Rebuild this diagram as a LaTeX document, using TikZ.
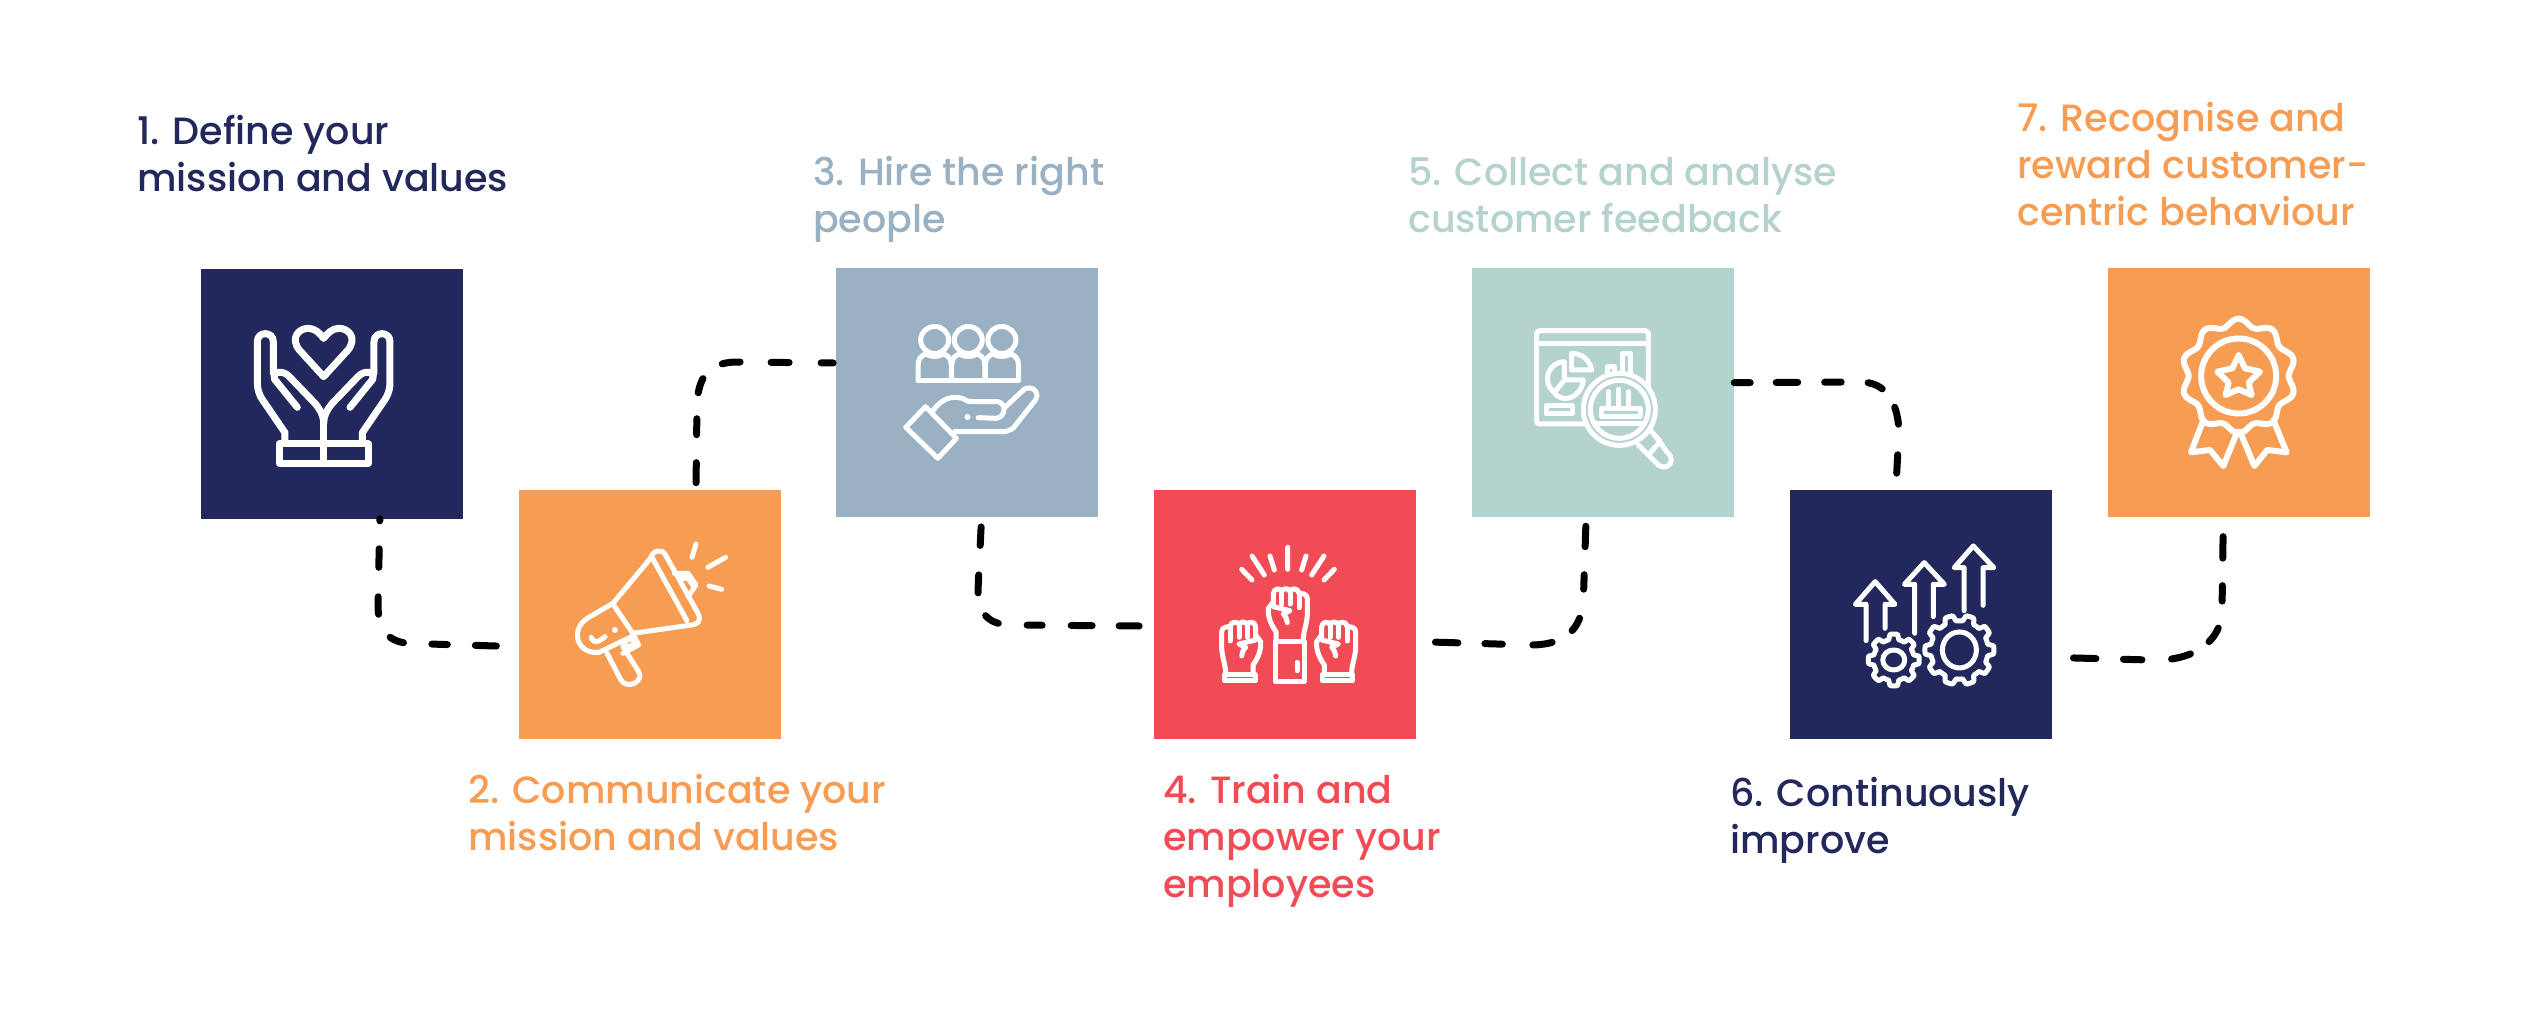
\documentclass[tikz,border=0pt]{standalone}
\usepackage{fontspec}
\setmainfont{Poppins}[UprightFont=* Medium]
\definecolor{navy}{HTML}{22285C}
\definecolor{orng}{HTML}{F79C53}
\definecolor{slate}{HTML}{9AB1C3}
\definecolor{redd}{HTML}{F14C55}
\definecolor{teal2}{HTML}{B4D2CE}
\tikzset{
  tile/.style={rectangle,inner sep=0pt,minimum width=262pt,minimum height=249.5pt,fill=#1},
  conn/.style={draw=black,line width=7pt,line cap=round,line join=round},
  bold icon/.style={draw=white,line width=7pt,line cap=round,line join=round},
  icon/.style={draw=white,line width=6pt,line cap=round,line join=round},
  thin icon/.style={draw=white,line width=5pt,line cap=round,line join=round},
  zoomw/.style={shift={(#1)},x=0.3954pt,y=-0.3333pt},
  zoomu/.style={shift={(#1)},x=0.3333pt,y=-0.3333pt},
  lbl/.style={anchor=north west,inner sep=0pt,align=left,text=#1,font=\fontsize{38}{47}\selectfont}
}
\newcommand{\firstline}{\rule{0pt}{30pt}}
\newcommand{\gearpath}[6]{%
  plot[domain=0:360,samples=241,variable=\t]
  ({#1+#3*(1+#5*max(-1,min(1,2.5*cos(#6*\t))))*cos(\t)},{#2+#4*(1+#5*max(-1,min(1,2.5*cos(#6*\t))))*sin(\t)}) -- cycle}
\newcommand{\fistpath}{%
  \draw[thin icon] (318,300) -- (318,275) .. controls (300,250) and (293,225) .. (295,205) -- (310,185) -- (310,160)
    .. controls (312,143) and (333,143) .. (335,155) .. controls (337,143) and (358,143) .. (360,155)
    .. controls (362,143) and (385,143) .. (387,160) .. controls (392,160) and (412,160) .. (412,175)
    -- (412,225) .. controls (410,255) and (400,275) .. (400,300);
  \draw[thin icon] (335,155) -- (335,192) (360,155) -- (360,192) (387,160) -- (387,203);
  \draw[thin icon] (310,185) -- (310,200) -- (360,212) -- (340,222) .. controls (348,230) and (351,238) .. (352,248);
}
\newcommand{\sidefist}{%
  \fistpath
  \draw[thin icon] (312,303) rectangle (403,323);
}
\begin{document}
\begin{tikzpicture}[x=1pt,y=-1pt]
\useasboundingbox (0,0) rectangle (2540,1035);
\fill[white] (0,0) rectangle (2540,1035);

% tiles
\node[tile=navy]  (s1) at (331.85,393.85) {};
\node[tile=orng]  (s2) at (649.55,614.65) {};
\node[tile=slate] (s3) at (967.1,392.5) {};
\node[tile=redd]  (s4) at (1285.2,614.65) {};
\node[tile=teal2] (s5) at (1603,392.5) {};
\node[tile=navy]  (s6) at (1921.25,614.65) {};
\node[tile=orng]  (s7) at (2238.85,392.5) {};

% connectors
\draw[conn,dash pattern=on 2pt off 28pt on 18.5pt off 29.5pt on 17.5pt off 26.5pt on 14.5pt off 28.5pt on 15.5pt off 28pt on 21pt off 60pt]
  ([xshift=48pt]s1.south) -- (378,605) .. controls (378,630) and (388,643) .. (412,643.5) -- ([xshift=-17.5pt,yshift=-31.5pt]s2.west);
\draw[conn,dash pattern=on 20pt off 28pt on 16pt off 26pt on 15pt off 25pt on 18pt off 31pt on 18pt off 32pt on 12pt off 60pt]
  ([xshift=46.5pt,yshift=7pt]s2.north) -- (697,405) .. controls (698,378) and (708,363) .. (735,362) -- (s3.west |- 0,363);
\draw[conn,dash pattern=on 18.5pt off 29.5pt on 18pt off 24.5pt on 15pt off 29pt on 15pt off 29pt on 21pt off 27pt on 20pt off 60pt]
  ([xshift=14pt,yshift=-9.5pt]s3.south) -- (978,590) .. controls (978,615) and (990,625) .. (1012,625) -- ([xshift=-8pt,yshift=-11.4pt]s4.west);
\draw[conn,dash pattern=on 22.5pt off 27pt on 17.5pt off 30.5pt on 19.5pt off 23.5pt on 14.5pt off 29.5pt on 14.5pt off 28pt on 20.5pt off 60pt]
  ([xshift=19pt,yshift=-27.5pt]s4.east) -- (1530,645) .. controls (1570,645) and (1583,625) .. (1583.5,595) -- ([xshift=-17pt,yshift=-3.5pt]s5.south);
\draw[conn,dash pattern=on 16pt off 26pt on 21.5pt off 27pt on 16.5pt off 27pt on 15.5pt off 22.5pt on 17.5pt off 30.5pt on 18.5pt off 60pt]
  ([yshift=9.8pt]s5.east) -- (1860,382) .. controls (1885,382) and (1897,400) .. (1899,430) -- ([xshift=-25pt,yshift=8.3pt]s6.north);
\draw[conn,dash pattern=on 22.5pt off 27.5pt on 18.5pt off 29.7pt on 19.5pt off 22.5pt on 16.5pt off 27.5pt on 15.5pt off 27.5pt on 21.5pt off 60pt]
  ([xshift=21pt,yshift=-43.3pt]s6.east) -- (2150,660) .. controls (2195,662) and (2222,640) .. (2222,610) -- ([xshift=-15.5pt]s7.south);

% icon 1: hands and heart
\begin{scope}[zoomu={240,320}]
  \draw[bold icon] (251,170) -- (178,90) .. controls (150,55) and (175,25) .. (205,25) .. controls (225,25) and (240,40) .. (251,55)
    .. controls (262,40) and (277,25) .. (297,25) .. controls (327,25) and (352,55) .. (324,90) -- cycle;
  \draw[bold icon] (118,372) rectangle (385,430);
  \draw[bold icon] (251,285) -- (251,430);
  \foreach \mir in {1,-1}{
    \begin{scope}[shift={(251,0)},xscale=\mir,shift={(-251,0)}]
      \draw[bold icon] (135,370) -- (135,338) -- (68,240) .. controls (55,220) and (52,205) .. (52,185) -- (52,65)
        .. controls (52,33) and (100,33) .. (100,65) -- (100,160);
      \draw[bold icon] (104,178) -- (172,262);
      \draw[bold icon] (104,178) .. controls (95,152) and (130,150) .. (148,170) -- (225,250) .. controls (240,268) and (251,285) .. (251,310);
    \end{scope}
  }
\end{scope}

% icon 2: megaphone
\begin{scope}[zoomw={180,250}]
  \draw[thin icon] (1190,925) .. controls (1195,900) and (1220,895) .. (1228,915) -- (1310,1090) .. controls (1320,1115) and (1308,1122) .. (1295,1125) -- (1145,1150);
  \draw[thin icon] (1195,925) -- (1282,1112);
  \draw[thin icon] (1190,925) -- (1095,1060) -- (1030,1105) .. controls (985,1140) and (1005,1215) .. (1060,1207) -- (1142,1160);
  \draw[thin icon] (1095,1062) -- (1145,1150) -- (1160,1185) -- (1120,1210);
  \draw[thin icon] (1250,970) -- (1285,970) -- (1305,1005) -- (1285,1040);
  \draw[thin icon] (1265,985) -- (1285,985) -- (1298,1008);
  \draw[thin icon] (1122,1175) -- (1145,1165) -- (1150,1182) -- (1130,1192) -- cycle;
  \draw[thin icon] (1080,1210) -- (1115,1290) .. controls (1130,1320) and (1175,1295) .. (1160,1265) -- (1120,1190);
  \fill[white] (1100,1140) circle[x radius=3pt,y radius=3pt];
  \draw[thin icon] (1040,1162) .. controls (1045,1180) and (1055,1180) .. (1075,1160);
  \draw[thin icon] (1295,922) -- (1305,882) (1335,952) -- (1380,922) (1338,1008) -- (1370,1018);
\end{scope}

% icon 3: people over a hand
\begin{scope}[zoomw={820,250}]
  \foreach \cx in {290,375,460}{
    \draw[thin icon] (\cx,270) circle[x radius=14pt,y radius=13.5pt];
    \draw[thin icon] ({\cx-42},390) -- ({\cx-42},345) .. controls ({\cx-42},325) and ({\cx-32},315) .. ({\cx-22},312)
      .. controls ({\cx-10},322) and ({\cx+10},322) .. ({\cx+22},312) .. controls ({\cx+32},315) and ({\cx+42},325) .. ({\cx+42},345) -- ({\cx+42},390);
  }
  \draw[thin icon] (248,392) -- (502,392);
  \draw[thin icon] (267,470) -- (345,565) -- (298,625) -- (217,532) -- cycle;
  \draw[thin icon] (285,483) .. controls (305,450) and (330,435) .. (360,445) .. controls (368,450) and (372,455) .. (385,455) -- (450,455)
    .. controls (472,460) and (470,503) .. (445,505) -- (400,503);
  \fill[white] (373,501) circle[x radius=3pt,y radius=3pt];
  \draw[thin icon] (340,545) -- (460,545) .. controls (480,545) and (490,535) .. (495,525) -- (545,450) .. controls (560,420) and (525,400) .. (510,425) -- (465,475);
\end{scope}

% icon 4: raised fists
\begin{scope}[zoomu={1170,540}]
  \draw[thin icon] (353,22) -- (353,88) (300,48) -- (313,90) (246,48) -- (283,105) (215,88) -- (246,120)
    (408,48) -- (395,90) (462,48) -- (425,105) (493,88) -- (462,120);
  \fistpath
  \draw[thin icon] (315,305) rectangle (402,425);
  \draw[thin icon] (381,367) -- (381,392);
  \begin{scope}[shift={(145,100)}]
    \sidefist
  \end{scope}
  \begin{scope}[shift={(567,100)},xscale=-1]
    \sidefist
  \end{scope}
\end{scope}

% icon 5: dashboard under a magnifier
\begin{scope}[zoomu={1520,320}]
  \draw[thin icon,rounded corners=3pt] (50,32) rectangle (385,312);
  \draw[thin icon] (50,72) -- (385,72);
  \draw[thin icon] (155,100) -- (155,150) -- (215,150) .. controls (210,120) and (185,100) .. (155,100) -- cycle;
  \draw[thin icon] (133,125) -- (133,180) -- (103,218) .. controls (60,180) and (90,125) .. (133,125) -- cycle;
  \draw[thin icon] (133,180) -- (190,180) .. controls (185,230) and (130,255) .. (103,218);
  \draw[thin icon] (262,175) -- (262,140) -- (282,140) -- (282,175);
  \draw[thin icon] (308,165) -- (308,100) -- (332,100) -- (332,175);
  \draw[thin icon] (78,258) rectangle (158,280);
  \draw[thin icon,fill=teal2] (298,268) circle[radius=36pt];
  \draw[thin icon] (298,268) circle[radius=29pt];
  \draw[thin icon] (245,265) rectangle (360,290);
  \draw[thin icon] (265,215) -- (265,265) (295,208) -- (295,265) (325,215) -- (325,265) (225,312) -- (372,312);
  \draw[thin icon] (355,375) -- (385,405) -- (420,365) -- (395,335);
  \draw[thin icon] (385,405) -- (415,435) .. controls (445,455) and (470,420) .. (440,395) -- (410,352);
\end{scope}

% icon 6: arrows and gears
\begin{scope}[zoomw={1460,250}]
  \draw[thin icon] (1027,1172) -- (1027,1063) -- (1000,1063) -- (1050,995) -- (1100,1063) -- (1075,1063) -- (1075,1135);
  \draw[thin icon] (1150,1150) -- (1150,1003) -- (1124,1003) -- (1174,938) -- (1225,1003) -- (1197,1003) -- (1197,1100);
  \draw[thin icon] (1275,1082) -- (1275,953) -- (1250,953) -- (1298,888) -- (1350,953) -- (1323,953) -- (1323,1066);
  \draw[thin icon] \gearpath{1097}{1230}{58}{70}{0.11}{8};
  \draw[thin icon] (1097,1230) circle[x radius=11pt,y radius=10pt];
  \draw[thin icon] \gearpath{1263}{1200}{80}{96}{0.09}{10};
  \draw[thin icon] (1263,1200) circle[x radius=17pt,y radius=18pt];
\end{scope}

% icon 7: rosette
\begin{scope}[zoomu={2060,250}]
  \draw[icon] plot[smooth cycle,domain=0:357,samples=120,variable=\t]
    ({536+(161+11*cos(10*(\t-90)))*cos(\t)},{378-(161+11*cos(10*(\t-90)))*sin(\t)});
  \draw[icon] (536,378) circle[radius=37.5pt];
  \draw[icon] (536,315) -- (555,355) -- (600,365) -- (566,398) -- (575,435) -- (536,418) -- (497,435) -- (506,398) -- (472,365) -- (517,355) -- cycle;
  \draw[icon] (430,510) -- (393,607) -- (450,600) -- (490,648) -- (532,545);
  \draw[icon] (640,510) -- (680,607) -- (622,600) -- (583,648) -- (540,545);
\end{scope}

% labels
\node[lbl=navy]  (t1) at (137,114) {\firstline 1. Define your\\mission and values};
\node[lbl=orng]  (t2) at (468,773) {\firstline 2. Communicate your\\mission and values};
\node[lbl=slate] (t3) at (813,155) {\firstline 3. Hire the right\\people};
\node[lbl=redd]  (t4) at (1163,773) {\firstline 4. Train and\\empower your\\employees};
\node[lbl=teal2] (t5) at (1408,155) {\firstline 5. Collect and analyse\\customer feedback};
\node[lbl=navy]  (t6) at (1730,776) {\firstline 6. Continuously\\improve};
\node[lbl=orng]  (t7) at (2017,101) {\firstline 7. Recognise and\\reward customer-\\centric behaviour};
\end{tikzpicture}
\end{document}
